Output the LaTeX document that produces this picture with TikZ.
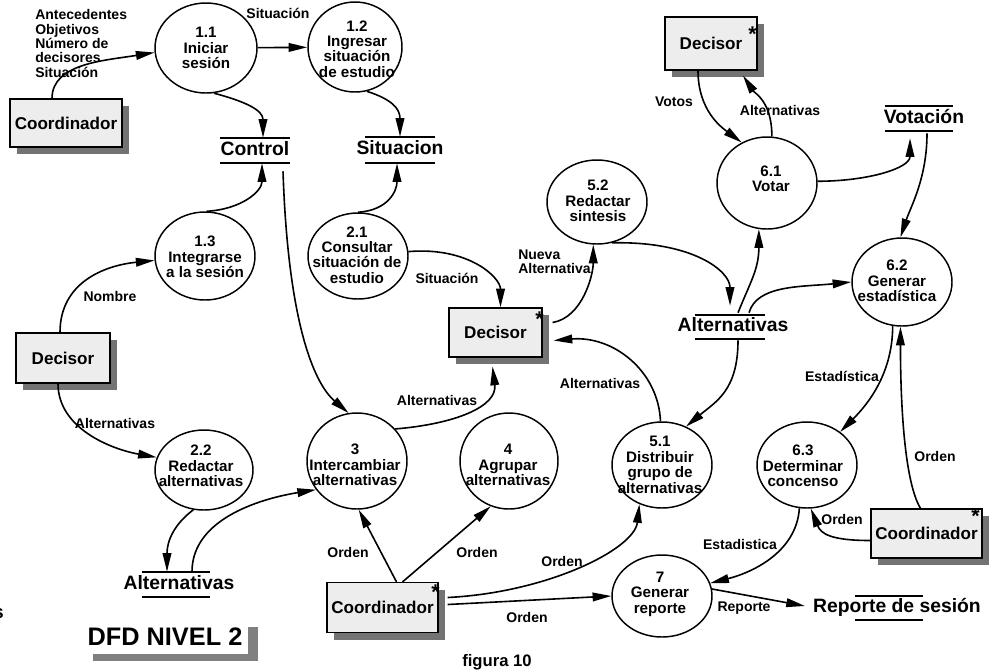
\documentclass[tikz,border=0pt]{standalone}
\usepackage{fontspec}
\setmainfont{Liberation Sans}
\usetikzlibrary{shapes.geometric,arrows.meta,calc,shadows}

% process bubble: name, centre x, centre y, rx, ry, text x, text y, text
\newcommand{\dfdproc}[8]{%
  \node[proc, minimum width={#4*1.5pt}, minimum height={#5*1.5pt}] (#1) at (#2,#3) {};
  \node[proctext] (#1-t) at (#6,#7) {#8};}
% data store: name, x, y, gap between bars (px), text, bar left, bar right
\newcommand{\dfdstore}[7]{%
  \node[store, minimum height={#4*0.75pt}] (#1) at (#2,#3) {#5};
  \draw[storeline] ($(#1.north)+(#6,0)$) -- ($(#1.north)+(#7,0)$);
  \draw[storeline] ($(#1.south)+(#6,0)$) -- ($(#1.south)+(#7,0)$);}

\tikzset{
  proc/.style={draw, ellipse, inner sep=0pt, line width=1.1pt},
  proctext/.style={align=center, inner sep=0pt,
    font=\fontsize{11.4pt}{11.6pt}\selectfont\bfseries},
  flowlbl/.style={align=left, inner sep=0pt,
    font=\fontsize{10.5pt}{10.8pt}\selectfont\bfseries},
  ent/.style={draw, line width=0.9pt, fill=black!7, inner sep=1pt,
    font=\fontsize{12.8pt}{14pt}\selectfont\bfseries,
    general shadow={fill=black!55, shadow xshift=5.25pt, shadow yshift=-5.25pt}},
  % box kept tight round the raised asterisk glyph
  starmark/.style={inner sep=0pt, text height=0.72em, text depth=-0.43em,
    font=\fontsize{16pt}{16pt}\selectfont\bfseries},
  store/.style={inner sep=0pt, text height=0.72em, text depth=0pt,
    font=\fontsize{14.5pt}{15pt}\selectfont\bfseries},
  storeline/.style={line width=1.6pt},
  flow/.style={-{Triangle[length=14pt,width=6.5pt]}, line width=1.2pt},
}

\begin{document}
\begin{tikzpicture}[x=0.75pt, y=-0.75pt]
\useasboundingbox (0,0) rectangle (992,669);

% ---------- external entities ----------
\node[ent, minimum width=84pt, minimum height=36pt] (coordA) at (66,123) {Coordinador};
\node[ent, minimum width=70.5pt, minimum height=37.5pt] (decA) at (63,358) {Decisor};
\node[ent, minimum width=69.75pt, minimum height=36.75pt] (decB) at (495.5,332.5) {Decisor};
\node[ent, minimum width=69pt, minimum height=39.75pt] (decC) at (711,43.5) {Decisor};
\node[ent, minimum width=83.25pt, minimum height=37.5pt] (coordB) at (382.5,607.5) {Coordinador};
\node[ent, minimum width=83.25pt, minimum height=36.75pt] (coordC) at (926.5,533.5) {Coordinador};
\node[starmark] (decB-s) at ($(decB.north east)+(-3,14.5)$) {*};
\node[starmark] (decC-s) at ($(decC.north east)+(-5,20.5)$) {*};
\node[starmark] (coordB-s) at ($(coordB.north east)+(-3,12.5)$) {*};
\node[starmark] (coordC-s) at ($(coordC.north east)+(-7,10)$) {*};

% ---------- processes ----------
\dfdproc{p11}{206}{48}{51}{45}{206}{48}{1.1\\Iniciar\\sesión}
\dfdproc{p12}{355}{47}{47}{45}{357}{49}{1.2\\Ingresar\\situación\\de estudio}
\dfdproc{p13}{205}{256}{50}{44}{205}{257}{1.3\\Integrarse\\a la sesión}
\dfdproc{p21}{358}{256}{50}{43}{357}{255}{2.1\\Consultar\\situación de\\estudio}
\dfdproc{p52}{597}{202}{50}{42}{598}{201}{5.2\\Redactar\\sintesis}
\dfdproc{p61}{767}{183}{50}{46}{771}{179}{6.1\\Votar}
\dfdproc{p62}{902}{282}{50}{44}{897}{281}{6.2\\Generar\\estadística}
\dfdproc{p22}{204}{470}{49}{40}{201}{466}{2.2\\Redactar\\alternativas}
\dfdproc{p3}{357}{461}{50}{48}{355}{465}{3\\Intercambiar\\alternativas}
\dfdproc{p4}{509}{461}{49}{48}{508}{465}{4\\Agrupar\\alternativas}
\dfdproc{p51}{662}{465}{50}{43}{660}{465}{5.1\\Distribuir\\grupo de\\alternativas}
\dfdproc{p63}{807}{465}{50}{43}{803}{466}{6.3\\Determinar\\concenso}
\dfdproc{p7}{662}{596}{50}{41}{660}{594}{7\\Generar\\reporte}

% ---------- data stores ----------
\dfdstore{ctrl}{255}{150.5}{25}{Control}{-35}{35}
\dfdstore{sit}{400}{150}{26}{Situacion}{-35}{35}
\dfdstore{vot}{924}{118.5}{25}{Votación}{-39}{29}
\dfdstore{altC}{733}{327}{24}{Alternativas}{-38}{32}
\dfdstore{altL}{179}{584.5}{25}{Alternativas}{-37}{31}
\dfdstore{rep}{897}{608}{24}{Reporte de sesión}{-42}{26}

% ---------- data flows ----------
\draw[flow] ($(coordA.north)+(-14,0)$) .. controls +(0,-35) and +(-50,8) .. (p11.185);
\draw[flow] (p11) -- (p12);
\draw[flow] (p11.-80) .. controls +(30,8) and +(0,-28) .. ($(ctrl.north)+(8,0)$);
\draw[flow] (p12.-75) .. controls +(25,8) and +(0,-28) .. (sit.north);
\draw[flow] (p13.88) .. controls +(35,-2) and +(0,28) .. ($(ctrl.south)+(7,0)$);
\draw[flow] (p21.90) .. controls +(30,-2) and +(0,28) .. ($(sit.south)+(-3,0)$);
\draw[flow] ($(ctrl.south)+(28,8)$) .. controls +(5,150) and +(-35,-30) .. (p3.100);
\draw[flow] ($(decA.north)+(-3,0)$) .. controls +(0,-50) and +(-50,5) .. (p13.185);
\draw[flow] ($(decA.south)+(-5,0)$) .. controls +(0,45) and +(-45,-8) .. (p22.165);
\draw[flow] (p22.-105) .. controls +(-20,15) and +(0,-30) .. ($(altL.north)+(-12,0)$);
\draw[flow] ($(altL.north)+(13,0)$) .. controls +(0,-55) and +(-50,8) .. (p3.215);
\draw[flow] ($(coordB.north)+(14,0)$) -- (p3.-88);
\draw[flow] ($(coordB.north)+(20,0)$) -- (p4.248);
\draw[flow] ($(coordB.east)+(9,-10)$) .. controls +(100,-5) and +(-5,45) .. (p51.240);
\draw[flow] ($(coordB.east)+(9,-3)$) -- (p7.180);
\draw[flow] (p3.40) .. controls +(60,-5) and +(5,40) .. ($(decB.south)+(-3,9)$);
\draw[flow] (p21.5) .. controls +(60,-5) and +(0,-30) .. ($(decB.north)+(5,0)$);
\draw[flow] ($(decB.east)+(10,-10)$) .. controls +(30,-5) and +(0,30) .. (p52.265);
\draw[flow] (p51.92) .. controls +(-2,-50) and +(60,-5) .. ($(decB.east)+(11,8)$);
\draw[flow] (p52.-70) .. controls +(80,-2) and +(0,-35) .. ($(altC.north)+(-3,-9)$);
\draw[flow] ($(altC.north)+(5,-2)$) .. controls +(12,-30) and +(0,40) .. (p61.-100);
\draw[flow] ($(altC.north)+(16,-2)$) .. controls +(8,-28) and +(-50,5) .. (p62.180);
\draw[flow] ($(altC.south)+(5,1)$) .. controls +(0,50) and +(30,-25) .. (p51.58);
\draw[flow] ($(decC.south)+(-13,0)$) .. controls +(0,40) and +(-20,-15) .. (p61.122);
\draw[flow] (p61.84) .. controls +(0,-35) and +(12,18) .. ($(decC.south)+(32,5)$);
\draw[flow] (p61.2) .. controls +(50,0) and +(0,30) .. ($(vot.south)+(-14,7)$);
\draw[flow] ($(vot.south)+(3,2)$) .. controls +(0,45) and +(10,-30) .. (p62.92);
\draw[flow] (p62.-102) .. controls +(0,50) and +(25,-25) .. (p63.45);
\draw[flow] ($(coordC.north)+(-6,0)$) .. controls +(-18,-30) and +(0,60) .. (p62.-92);
\draw[flow] ($(coordC.west)+(0,7)$) .. controls +(-40,0) and +(10,25) .. (p63.-85);
\draw[flow] (p63.-100) .. controls +(-3,45) and +(40,-10) .. (p7.15);
\draw[flow] (p7.8) -- ($(rep.west)+(-8,-2)$);

% ---------- flow labels ----------
\node[flowlbl, anchor=west] (l-ini) at (35,43.5) {Antecedentes\\Objetivos\\Número de\\decisores\\Situación};
\node[flowlbl] (l-sit1) at (278,13) {Situación};
\node[flowlbl] (l-nom) at (110,296) {Nombre};
\node[flowlbl] (l-alt1) at (115,423) {Alternativas};
\node[flowlbl] (l-sit2) at (447,278) {Situación};
\node[flowlbl] (l-alt2) at (437,400) {Alternativas};
\node[flowlbl, anchor=west] (l-nueva) at (518,262) {Nueva\\Alternativa};
\node[flowlbl] (l-alt3) at (600,383) {Alternativas};
\node[flowlbl] (l-votos) at (674,102) {Votos};
\node[flowlbl] (l-alt4) at (780,110) {Alternativas};
\node[flowlbl] (l-est1) at (842,376) {Estadística};
\node[flowlbl] (l-ord1) at (935,456) {Orden};
\node[flowlbl] (l-ord2) at (842,519) {Orden};
\node[flowlbl] (l-est2) at (740,544) {Estadistica};
\node[flowlbl] (l-rep) at (744,608) {Reporte};
\node[flowlbl] (l-ord3) at (348,552) {Orden};
\node[flowlbl] (l-ord4) at (477,552) {Orden};
\node[flowlbl] (l-ord5) at (562,561) {Orden};
\node[flowlbl] (l-ord6) at (527,617) {Orden};

% ---------- titles ----------
\node[fill=white, minimum width=123.75pt, minimum height=26pt, inner sep=0pt,
  font=\fontsize{19pt}{19pt}\selectfont\bfseries,
  general shadow={fill=black!50, shadow xshift=7.5pt, shadow yshift=-5.25pt}]
  (title) at (165,637) {DFD NIVEL 2};
\node[inner sep=0pt, font=\fontsize{12.5pt}{12.5pt}\selectfont\bfseries] (fig) at (497,662) {figura 10};
\node[anchor=east, inner sep=0pt, font=\fontsize{14pt}{14pt}\selectfont\bfseries] (edge-s) at (4,614) {s};
\end{tikzpicture}
\end{document}
